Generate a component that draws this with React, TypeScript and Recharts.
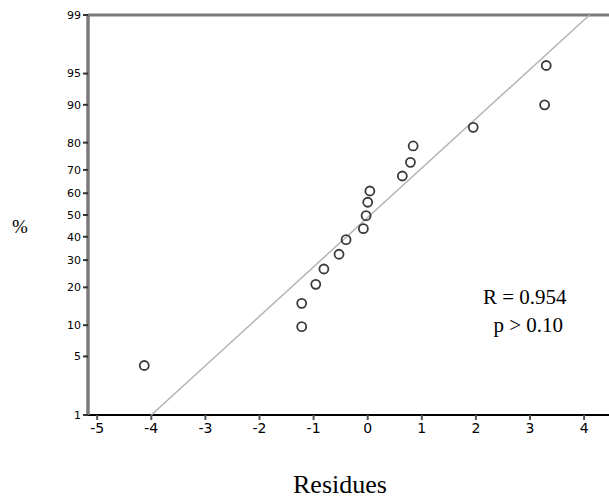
import React from "react";
import {
  ScatterChart,
  Scatter,
  XAxis,
  YAxis,
  ReferenceLine,
} from "recharts";

// residues and their cumulative percentages
const residues = [-4.13, -1.22, -1.22, -0.96, -0.81, -0.53, -0.4, -0.08, -0.03, 0.0, 0.04, 0.64, 0.79, 0.84, 1.95, 3.27, 3.3];
const percents = [4, 9.7, 15.2, 21, 26.5, 32.4, 38.7, 43.7, 49.7, 55.9, 61, 67.5, 73, 78.9, 84.6, 90, 95.9];

// fitted line ends
const fitX = [-4.0, 4.1];
const fitPct = [1, 99];

const xTicks = [-5, -4, -3, -2, -1, 0, 1, 2, 3, 4];
const pctTicks = [1, 5, 10, 20, 30, 40, 50, 60, 70, 80, 90, 95, 99];

// inverse normal cdf (Acklam), used as the probability scale
function probit(pp: number): number {
  const p = pp / 100;
  const a = [-39.69683028665376, 220.9460984245205, -275.9285104469687, 138.357751867269, -30.66479806614716, 2.506628277459239];
  const b = [-54.47609879822406, 161.5858368580409, -155.6989798598866, 66.80131188771972, -13.28068155288572];
  const c = [-0.007784894002430293, -0.3223964580411365, -2.400758277161838, -2.549732539343734, 4.374664141464968, 2.938163982698783];
  const d = [0.007784695709041462, 0.3224671290700398, 2.445134137142996, 3.754408661907416];
  const pl = 0.02425;
  if (p < pl) {
    const q = Math.sqrt(-2 * Math.log(p));
    return (((((c[0] * q + c[1]) * q + c[2]) * q + c[3]) * q + c[4]) * q + c[5]) / ((((d[0] * q + d[1]) * q + d[2]) * q + d[3]) * q + 1);
  }
  if (p > 1 - pl) {
    const q = Math.sqrt(-2 * Math.log(1 - p));
    return -(((((c[0] * q + c[1]) * q + c[2]) * q + c[3]) * q + c[4]) * q + c[5]) / ((((d[0] * q + d[1]) * q + d[2]) * q + d[3]) * q + 1);
  }
  const q = p - 0.5;
  const r = q * q;
  return ((((((a[0] * r + a[1]) * r + a[2]) * r + a[3]) * r + a[4]) * r + a[5]) * q) / (((((b[0] * r + b[1]) * r + b[2]) * r + b[3]) * r + b[4]) * r + 1);
}

const points = residues.map((x, i) => ({ x, y: probit(percents[i]) }));
const fit = fitX.map((x, i) => ({ x, y: probit(fitPct[i]) }));
const zTicks = pctTicks.map(probit);
const zMin = probit(1);
const zMax = probit(99);

const Ring = (props: any) => {
  const { cx, cy } = props;
  return <circle cx={cx} cy={cy} r={4.5} fill="none" stroke="#3a3a3a" strokeWidth={1.8} />;
};

const serif = "'Liberation Serif', 'Times New Roman', serif";

export default function App() {
  return (
    <div style={{ position: "absolute", left: 0, top: 0, width: 609, height: 501, background: "#fff" }}>
      <ScatterChart width={609} height={501} margin={{ top: 15, right: 0, bottom: 0, left: 0 }}>
        <XAxis
          type="number"
          dataKey="x"
          domain={[-5.17, 4.46]}
          allowDataOverflow
          ticks={xTicks}
          height={86}
          axisLine={{ stroke: "#000", strokeWidth: 2 }}
          tickLine={{ stroke: "#555", strokeWidth: 2 }}
          tickSize={5}
          tickMargin={3}
          tick={{ fill: "#000", fontSize: 14, fontFamily: "'DejaVu Sans', sans-serif" }}
        />
        <YAxis
          type="number"
          dataKey="y"
          domain={[zMin, zMax]}
          allowDataOverflow
          ticks={zTicks}
          width={88}
          tickFormatter={(v: number) => {
            const i = zTicks.findIndex((t) => Math.abs(t - v) < 1e-6);
            return i >= 0 ? String(pctTicks[i]) : "";
          }}
          axisLine={{ stroke: "#7a7a7a", strokeWidth: 3.5 }}
          tickLine={{ stroke: "#333", strokeWidth: 2 }}
          tickSize={5}
          tickMargin={2}
          tick={{ fill: "#000", fontSize: 11, fontFamily: "'DejaVu Sans', sans-serif" }}
        />
        <ReferenceLine y={zMax} stroke="#7a7a7a" strokeWidth={3} ifOverflow="visible" />
        <Scatter
          data={fit}
          line={{ stroke: "#b4b4b4", strokeWidth: 1.5 }}
          shape={() => null}
          isAnimationActive={false}
        />
        <Scatter data={points} shape={<Ring />} isAnimationActive={false} />
      </ScatterChart>
      <div style={{ position: "absolute", left: 12, top: 216, fontFamily: serif, fontSize: 19 }}>%</div>
      <div style={{ position: "absolute", left: 293, top: 470, fontFamily: serif, fontSize: 26 }}>Residues</div>
      <div style={{ position: "absolute", left: 483, top: 283, fontFamily: serif, fontSize: 21, lineHeight: "28px", whiteSpace: "pre" }}>
        {"R = 0.954\n  p > 0.10"}
      </div>
    </div>
  );
}
